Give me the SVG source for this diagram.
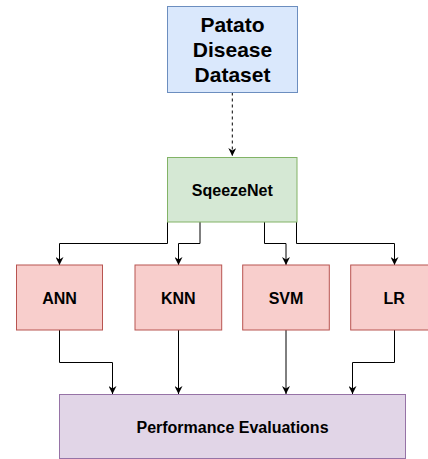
<svg xmlns="http://www.w3.org/2000/svg" width="428" height="459" viewBox="0 0 428 459">
<style>
text{font-family:"Liberation Sans",Arial,sans-serif;font-weight:bold;fill:#000;text-anchor:middle}
.t16{font-size:16px}
.t21{font-size:21px}
.blue{fill:#dae8fc;stroke:#6c8ebf;stroke-width:1}
.green{fill:#d5e8d4;stroke:#82b366;stroke-width:1}
.red{fill:#f8cecc;stroke:#b85450;stroke-width:1}
.purple{fill:#e1d5e7;stroke:#9673a6;stroke-width:1}
.edge{fill:none;stroke:#000;stroke-width:1}
</style>
<defs>
<marker id="arr" viewBox="0 0 10 10" refX="10" refY="5" markerWidth="8" markerHeight="8" markerUnits="userSpaceOnUse" orient="auto">
<path d="M0,0 L10,5 L0,10 L3,5 Z" fill="#000"/>
</marker>
</defs>
<g id="connectors">
<path class="edge" d="M232.3,92.5 V156" stroke-dasharray="3 3" marker-end="url(#arr)"/>
<path class="edge" d="M167.5,222 V243.5 H59.5 V265" marker-end="url(#arr)"/>
<path class="edge" d="M200,222 V243.5 H178.5 V265" marker-end="url(#arr)"/>
<path class="edge" d="M264.5,222 V243.5 H286 V265" marker-end="url(#arr)"/>
<path class="edge" d="M296.5,222 V243.5 H394.5 V265" marker-end="url(#arr)"/>
<path class="edge" d="M59.5,330 V362.5 H112.5 V394" marker-end="url(#arr)"/>
<path class="edge" d="M178.5,330 V394" marker-end="url(#arr)"/>
<path class="edge" d="M286,330 V394" marker-end="url(#arr)"/>
<path class="edge" d="M394.5,330 V362.5 H352.5 V394" marker-end="url(#arr)"/>
</g>
<g id="dataset">
<rect class="blue" x="167.5" y="6.5" width="130" height="86"/>
<text class="t21" x="232.5" y="31.5">Patato</text>
<text class="t21" x="232.5" y="56.7">Disease</text>
<text class="t21" x="232.5" y="81.9">Dataset</text>
</g>
<g id="squeezenet">
<rect class="green" x="167.5" y="157.5" width="129.5" height="64.5"/>
<text class="t16" x="232.3" y="196.4">SqeezeNet</text>
</g>
<g id="ann">
<rect class="red" x="16.5" y="265" width="86" height="65"/>
<text class="t16" x="59.5" y="304">ANN</text>
</g>
<g id="knn">
<rect class="red" x="135" y="265" width="86.7" height="65"/>
<text class="t16" x="178.3" y="304">KNN</text>
</g>
<g id="svm">
<rect class="red" x="242.7" y="265" width="86.6" height="65"/>
<text class="t16" x="286" y="304">SVM</text>
</g>
<g id="lr">
<rect class="red" x="350.7" y="265" width="87" height="65"/>
<text class="t16" x="394.2" y="304">LR</text>
</g>
<g id="performance">
<rect class="purple" x="59.5" y="394.5" width="346" height="64"/>
<text class="t16" x="232.5" y="433.4">Performance Evaluations</text>
</g>
</svg>
